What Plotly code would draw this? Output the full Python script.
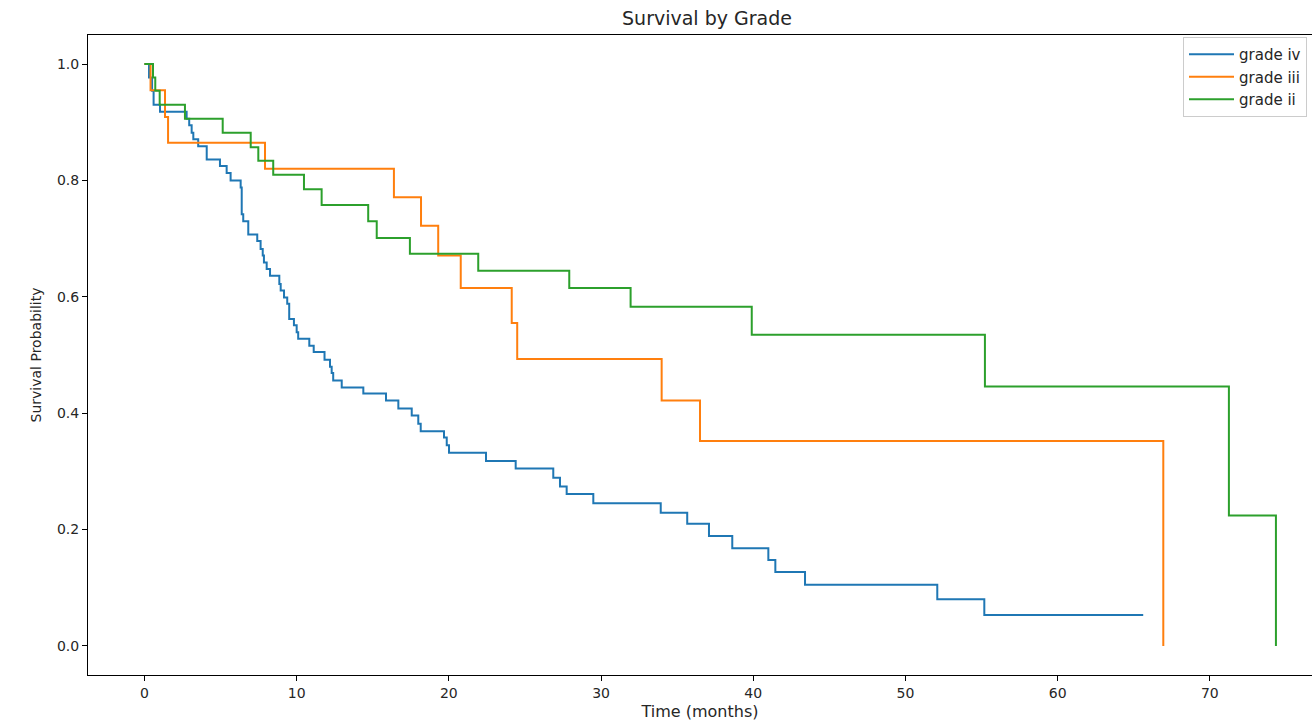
import plotly.graph_objects as go

# Kaplan-Meier step data (time in months, survival probability after each event)
grade_iv_t = [0, 0.3, 0.5, 0.6, 1.02, 2.77, 2.94, 3.10, 3.21, 3.53, 4.09, 4.96, 5.40, 5.66, 6.32, 6.39,
              6.49, 6.82, 7.41, 7.63, 7.77, 7.85, 8.03, 8.25, 8.86, 8.95, 9.17, 9.38, 9.51, 9.82,
              10.0, 10.1, 10.83, 11.12, 11.83, 12.19, 12.30, 12.40, 12.96, 14.38, 15.87, 16.68,
              17.56, 17.99, 18.15, 19.68, 19.86, 20.01, 22.44, 24.39, 26.86, 27.30, 27.74, 29.49,
              33.92, 35.66, 37.09, 38.62, 40.99, 41.45, 43.40, 52.09, 55.18, 65.62]
grade_iv_s = [1.0, 0.977, 0.954, 0.93, 0.918, 0.906, 0.895, 0.882, 0.871, 0.859, 0.836, 0.825, 0.813,
              0.80, 0.788, 0.742, 0.730, 0.707, 0.696, 0.682, 0.671, 0.659, 0.648, 0.636, 0.622,
              0.611, 0.599, 0.588, 0.562, 0.551, 0.539, 0.528, 0.516, 0.505, 0.492, 0.480, 0.469,
              0.456, 0.444, 0.434, 0.422, 0.408, 0.396, 0.382, 0.369, 0.358, 0.345, 0.332, 0.318,
              0.305, 0.289, 0.274, 0.261, 0.245, 0.229, 0.21, 0.189, 0.168, 0.1475, 0.127, 0.105,
              0.080, 0.053, 0.053]

grade_iii_t = [0, 0.4, 1.35, 1.55, 7.92, 16.39, 18.17, 19.30, 20.78, 24.13, 24.49, 33.98, 36.50, 66.94]
grade_iii_s = [1.0, 0.955, 0.909, 0.865, 0.82, 0.771, 0.722, 0.671, 0.615, 0.555, 0.493, 0.422, 0.352, 0.0]

grade_ii_t = [0, 0.56, 0.71, 1.0, 2.66, 5.14, 6.98, 7.48, 8.46, 10.48, 11.64, 14.70, 15.26, 17.44,
              21.93, 27.91, 31.94, 39.90, 55.22, 71.25, 74.34]
grade_ii_s = [1.0, 0.977, 0.954, 0.93, 0.906, 0.882, 0.857, 0.834, 0.810, 0.785, 0.758, 0.730, 0.701,
              0.674, 0.645, 0.615, 0.583, 0.535, 0.446, 0.224, 0.0]

series = [("grade iv", grade_iv_t, grade_iv_s, "#1f77b4"),
          ("grade iii", grade_iii_t, grade_iii_s, "#ff7f0e"),
          ("grade ii", grade_ii_t, grade_ii_s, "#2ca02c")]

x_ticks = [0, 10, 20, 30, 40, 50, 60, 70]
y_ticks = [0.0, 0.2, 0.4, 0.6, 0.8, 1.0]

FONT = "DejaVu Sans"
TXT = "#262626"

fig = go.Figure()
for name, t, s, c in series:
    fig.add_trace(go.Scatter(x=t, y=s, mode="lines", name=name,
                             line=dict(color=c, width=2, shape="hv")))

fig.update_layout(
    width=1312, height=721,
    margin=dict(l=88, r=0, t=35, b=46),
    paper_bgcolor="white", plot_bgcolor="white",
    font=dict(family=FONT, color=TXT, size=14),
    title=dict(text="Survival by Grade", x=707 / 1312, xref="container", xanchor="center",
               y=1 - 18 / 721, yref="container", yanchor="middle",
               font=dict(family=FONT, size=19, color=TXT)),
    showlegend=True,
    legend=dict(x=(1183 - 88) / 1224, y=(675 - 37) / 640, xanchor="left", yanchor="top",
                bgcolor="rgba(255,255,255,0.8)", bordercolor="#cccccc", borderwidth=1,
                font=dict(family=FONT, size=15, color=TXT), tracegroupgap=0,
                itemwidth=45),
)
fig.update_xaxes(range=[-3.71, 76.71], tickvals=x_ticks, ticktext=[str(v) for v in x_ticks],
                 showgrid=False, zeroline=False, showline=True, linecolor="black", linewidth=1,
                 mirror=True, ticks="outside", ticklen=5, tickcolor="black",
                 tickfont=dict(size=14),
                 title=dict(text="Time (months)", font=dict(size=16), standoff=6))
fig.update_yaxes(range=[-0.05, 1.05], tickvals=y_ticks, ticktext=[f"{v:.1f}" for v in y_ticks],
                 showgrid=False, zeroline=False, showline=True, linecolor="black", linewidth=1,
                 mirror=False, ticks="outside", ticklen=5, tickcolor="black",
                 tickfont=dict(size=14),
                 title=dict(text="Survival Probability", font=dict(size=14), standoff=12))

fig.write_html("out.html")
